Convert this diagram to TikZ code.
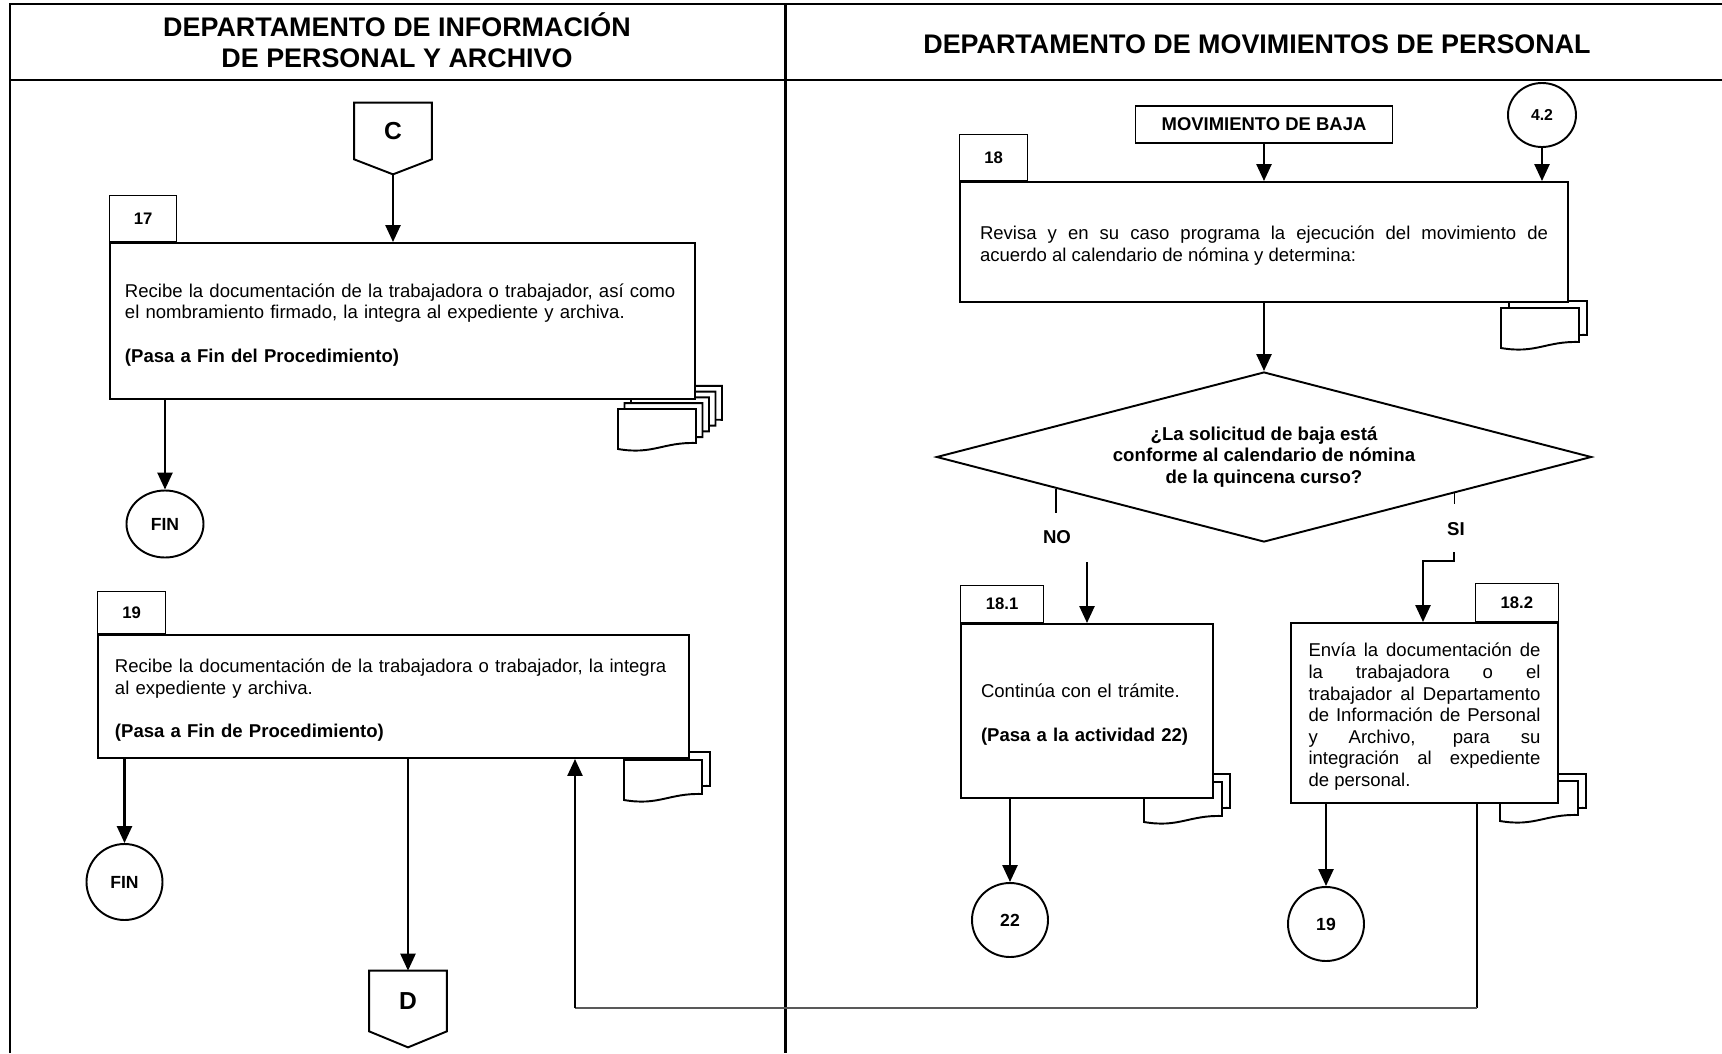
\documentclass[tikz,border=0pt]{standalone}
\usepackage{fontspec}
\setmainfont{Liberation Sans}
\usepackage{xcolor}
\usepackage{tikz}
\usetikzlibrary{calc}
\usetikzlibrary{shapes.geometric,arrows.meta}

% hoja de documento, esquina superior izquierda en (#1,#2)
\newcommand{\hoja}[2]{%
    \begin{scope}[shift={(#1,#2)}]
        \draw[hojadoc] (0,0) -- (78,0) -- (78,34) .. controls (45,33) and (35,46) .. (0,40) -- cycle;
    \end{scope}}

\begin{document}
\begin{tikzpicture}[x=0.2mm, y=-0.2mm,
        marco/.style={line width=1.7pt},
        titulo/.style={align=center, font=\bfseries\fontsize{15.3}{17.6}\selectfont},
        actividad/.style={draw, fill=white, line width=1.1pt, inner xsep=4mm, inner ysep=0pt,
            font=\fontsize{10.55}{12.3}\selectfont, execute at begin node={\rule{0pt}{12pt}}},
        folio/.style={draw, fill=white, line width=0.7pt, inner sep=0pt,
            font=\bfseries\fontsize{9.5}{11}\selectfont},
        conector/.style={draw, ellipse, fill=white, line width=1.1pt, inner sep=0pt,
            font=\bfseries\fontsize{10}{12}\selectfont},
        pagina/.style={inner sep=0pt, minimum width=15.4mm, font=\bfseries\fontsize{14}{16}\selectfont},
        flecha/.style={line width=1.4pt, -{Triangle[length=3.4mm, width=3mm]}},
        linea/.style={line width=1.1pt},
        hojadoc/.style={fill=white, line width=1.1pt},
        etiqueta/.style={font=\bfseries\fontsize{10.6}{12}\selectfont}]

        \useasboundingbox (0,0) rectangle (1722,1053);

        %MARCO
        \draw[marco] (10,1053) -- (10,4) -- (1722,4);
        \draw[marco] (10,80) -- (1722,80);
        \draw[marco] (785,4) -- (785,1053);

        %ENCABEZADOS
        \node[titulo] (Dep1) at (397,40.5) {DEPARTAMENTO DE INFORMACIÓN\\DE PERSONAL Y ARCHIVO};
        \node[titulo] (Dep2) at (1257,44) {DEPARTAMENTO DE MOVIMIENTOS DE PERSONAL};

        %HOJAS
        \foreach \i in {4,3,2,1,0} {\hoja{618+6.5*\i}{409-5.8*\i}}
        \foreach \i in {1,0} {\hoja{624+8*\i}{760-8*\i}}
        \foreach \i in {1,0} {\hoja{1501+8*\i}{308-7*\i}}
        \foreach \i in {1,0} {\hoja{1144+8*\i}{782-8*\i}}
        \foreach \i in {1,0} {\hoja{1500+8*\i}{781-7*\i}}

        %ACTIVIDAD 17
        \node[pagina, minimum height=11.2mm] (C) at (393,131) {C};
        \coordinate (Cpunta) at ($(C.south)+(0,15)$);
        \draw[linea] (C.south west) -- (C.north west) -- (C.north east) -- (C.south east) -- (Cpunta) -- cycle;
        \node[actividad, inner xsep=3mm, minimum width=117mm, minimum height=31.2mm, text width=111mm, align=left] (A17) at (402.5,321)
            {Recibe la documentación de la trabajadora o trabajador, así como\\
             el nombramiento firmado, la integra al expediente y archiva.\\[12.5pt]
             \textbf{(Pasa a Fin del Procedimiento)}};
        \node[folio, anchor=south west, minimum width=13.4mm, minimum height=9.2mm] (T17) at (A17.north west) {17};
        \node[conector, minimum width=15.4mm, minimum height=13.4mm] (Fin1) at (165,524) {FIN};
        \draw[flecha] (Cpunta) -- (Cpunta |- A17.north);
        \draw[flecha] (Fin1.north |- A17.south) -- (Fin1.north);

        %ACTIVIDAD 19
        \node[actividad, inner xsep=3.4mm, minimum width=118.2mm, minimum height=24.6mm, text width=111.4mm, align=left] (A19) at (393.5,696.5)
            {Recibe la documentación de la trabajadora o trabajador, la integra\\
             al expediente y archiva.\\[12.5pt]
             \textbf{(Pasa a Fin de Procedimiento)}};
        \node[folio, anchor=south west, minimum width=13.6mm, minimum height=8.4mm] (T19) at (A19.north west) {19};
        \node[conector, minimum width=15.2mm, minimum height=15.2mm] (Fin2) at (124.5,882) {FIN};
        \node[pagina, minimum height=12mm] (D) at (408,1001) {D};
        \coordinate (Dpunta) at ($(D.south)+(0,16)$);
        \draw[linea] (D.south west) -- (D.north west) -- (D.north east) -- (D.south east) -- (Dpunta) -- cycle;
        \draw[flecha] (Fin2.north |- A19.south) -- (Fin2.north);
        \draw[flecha] (D.north |- A19.south) -- (D.north);

        %ACTIVIDAD 18
        \node[draw, line width=1.1pt, minimum width=51.4mm, minimum height=7.4mm, inner sep=0pt,
            font=\bfseries\fontsize{10.5}{12}\selectfont] (Baja) at (1264,124.5) {MOVIMIENTO DE BAJA};
        \node[conector, minimum width=13.6mm, minimum height=12.8mm, font=\bfseries\fontsize{9}{11}\selectfont] (C42) at (1542,115) {4.2};
        \node[actividad, minimum width=121.6mm, minimum height=24mm, text width=113.6mm, align=justify] (A18) at (1264,242)
            {Revisa y en su caso programa la ejecución del movimiento de\linebreak
             acuerdo al calendario de nómina y determina:};
        \node[folio, anchor=south west, minimum width=13.6mm, minimum height=9.2mm] (T18) at (A18.north west) {18};
        \draw[flecha] (Baja.south) -- (Baja.south |- A18.north);
        \draw[flecha] (C42.south) -- (C42.south |- A18.north);

        %DECISION
        \node[draw, diamond, aspect=3.85, line width=1.1pt, minimum width=131mm, minimum height=34mm, inner sep=0pt,
            align=center, font=\bfseries\fontsize{10.6}{12.2}\selectfont] (Decision) at (1264,457)
            {¿La solicitud de baja está\\conforme al calendario de nómina\\de la quincena curso?};
        \draw[flecha] (A18.south) -- (Decision.north);

        %NO
        \coordinate (noA) at ($(Decision.west)!0.368!(Decision.south)$);
        \draw[linea] (noA) -- (noA |- 0,513);
        \node[etiqueta] (NO) at (1057,537) {NO};
        \coordinate (noB) at (1087,562);

        %SI
        \coordinate (siA) at ($(Decision.east)!0.42!(Decision.south)$);
        \draw[linea] (siA) -- (siA |- 0,504);
        \node[etiqueta] (SI) at (1456,529) {SI};
        \coordinate (siB) at (1454,552);
        \coordinate (siC) at (1423,561);

        %ACTIVIDAD 18.1
        \node[actividad, minimum width=50.4mm, minimum height=34.8mm, text width=42.4mm, align=left] (A181) at (1087,711)
            {Continúa con el trámite.\\[12.5pt]
             \textbf{(Pasa a la actividad 22)}};
        \node[folio, anchor=south west, minimum width=16.6mm, minimum height=7.4mm] (T181) at (A181.north west) {18.1};
        \node[conector, minimum width=15.2mm, minimum height=14.8mm] (C22) at (1010,920) {22};
        \draw[flecha] (noB) -- (noB |- A181.north);
        \draw[flecha] (C22.north |- A181.south) -- (C22.north);

        %ACTIVIDAD 18.2
        \node[actividad, inner xsep=3.5mm, minimum width=53.4mm, minimum height=36mm, text width=46.4mm, align=justify] (A182) at (1424.5,713)
            {Envía la documentación de\linebreak
             la trabajadora o el\linebreak
             trabajador al Departamento\linebreak
             de Información de Personal\linebreak
             y Archivo, para su\linebreak
             integración al expediente\linebreak
             de personal.};
        \node[folio, anchor=south east, minimum width=16.6mm, minimum height=7.6mm] (T182) at (A182.north east) {18.2};
        \node[conector, minimum width=15.2mm, minimum height=14.8mm] (C19) at (1326,924) {19};
        \draw[flecha] (siB) |- (siC) -- (siC |- A182.north);
        \draw[flecha] (C19.north |- A182.south) -- (C19.north);

        %RETORNO A 19
        \coordinate (retA) at (1477,1008);
        \coordinate (retB) at (575,1008);
        \draw[line width=0.8pt] (retA |- A182.south) -- (retA);
        \draw[line width=1.1pt, black!65] (retA) -- (retB);
        \draw[flecha] (retB) -- (retB |- A19.south);
    \end{tikzpicture}
\end{document}
